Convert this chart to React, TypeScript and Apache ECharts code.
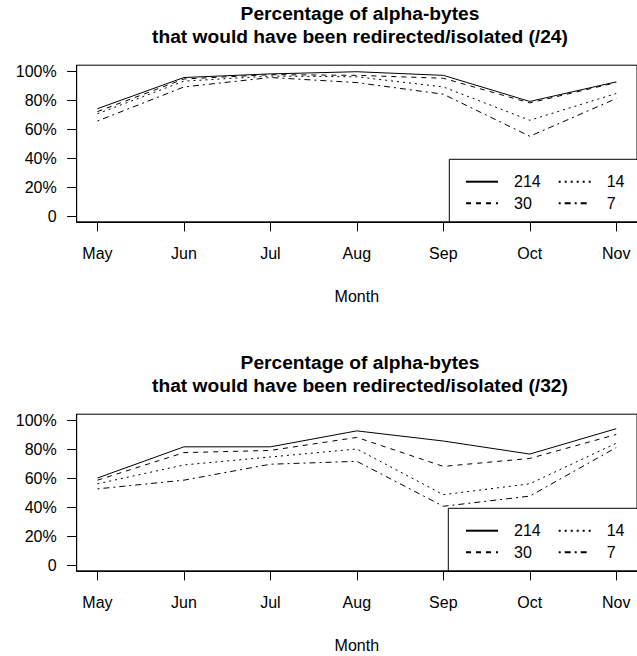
import React, { useEffect, useRef } from "react";
import * as echarts from "echarts";

// months on the x axis
const months = ["May", "Jun", "Jul", "Aug", "Sep", "Oct", "Nov"];
const yTicks = [0, 20, 40, 60, 80, 100];
const seriesNames = ["214", "30", "14", "7"];

// /24 panel (percent)
const top214 = [74, 95.5, 98, 99.5, 97, 79, 92.5];
const top30 = [72, 94.5, 97.5, 97, 95, 78, 92];
const top14 = [70.5, 93, 96.5, 96, 89, 66, 84.5];
const top7 = [65.5, 89, 95.5, 92, 84, 55, 81];

// /32 panel (percent)
const bot214 = [60, 81.5, 81.5, 92.5, 85.5, 76.5, 94];
const bot30 = [58.5, 77.5, 79, 88, 68, 73.5, 90];
const bot14 = [56, 69, 74.5, 80, 48.5, 56, 84];
const bot7 = [52.5, 58.5, 69.5, 71.5, 40.5, 47.5, 81];

const FONT = "Liberation Sans, Arial, sans-serif";
// R lty 1..4 : solid, dashed, dotted, dotdash
const dashTypes: any[] = ["solid", [5, 5], [2, 4], [2, 4, 6, 4]];

const OFFSET = 349; // vertical shift of the second panel

const makeSeries = (idx: number, rows: number[][]) =>
  rows.map((vals, k) => ({
    type: "line",
    name: seriesNames[k],
    xAxisIndex: idx,
    yAxisIndex: idx,
    data: vals.map((v, i) => [i, v]),
    symbol: "none",
    showSymbol: false,
    silent: true,
    lineStyle: { color: "#000", width: 1, type: dashTypes[k], cap: "butt" },
    itemStyle: { color: "#000" },
    z: 3,
  }));

const makeTitle = (label: string, dy: number) => ({
  text: "Percentage of alpha-bytes\nthat would have been redirected/isolated (" + label + ")",
  left: 360,
  top: 1.5 + dy,
  textAlign: "center",
  padding: 0,
  textStyle: {
    fontFamily: FONT,
    fontSize: 19.2,
    fontWeight: "bold",
    lineHeight: 23,
    color: "#000",
  },
});

const makeLegend = (names: string[], left: number, dy: number) => ({
  data: names,
  orient: "vertical",
  left,
  top: 173.7 + dy,
  padding: 0,
  itemWidth: 32,
  itemHeight: 16,
  itemGap: 5.6,
  selectedMode: false,
  z: 20,
  // hide the marker, keep only the line sample
  itemStyle: { color: "rgba(0,0,0,0)", borderWidth: 0, opacity: 0 },
  textStyle: {
    fontFamily: FONT,
    fontSize: 16,
    lineHeight: 16,
    color: "#000",
    padding: [0, 0, 0, 11],
  },
});

const makeX = (idx: number) => ({
  type: "value",
  gridIndex: idx,
  min: -0.24,
  max: 6.24,
  splitLine: { show: false },
  axisLine: { show: true, onZero: false, lineStyle: { color: "#000", width: 1 } },
  axisTick: {
    show: true,
    length: 9.6,
    customValues: months.map((_, i) => i),
    lineStyle: { color: "#000", width: 1 },
  },
  axisLabel: {
    customValues: months.map((_, i) => i),
    formatter: (v: number) => months[Math.round(v)],
    margin: 24,
    fontFamily: FONT,
    fontSize: 16,
    color: "#000",
  },
  name: "Month",
  nameLocation: "middle",
  nameGap: 67,
  nameTextStyle: { fontFamily: FONT, fontSize: 16, color: "#000" },
});

const makeY = (idx: number) => ({
  type: "value",
  gridIndex: idx,
  min: -4,
  max: 104,
  splitLine: { show: false },
  axisLine: { show: true, onZero: false, lineStyle: { color: "#000", width: 1 } },
  axisTick: {
    show: true,
    length: 9.6,
    customValues: yTicks,
    lineStyle: { color: "#000", width: 1 },
  },
  axisLabel: {
    customValues: yTicks,
    formatter: (v: number) => (v === 0 ? "0" : v + "%"),
    margin: 20,
    fontFamily: FONT,
    fontSize: 16,
    color: "#000",
  },
});

const legendBox = (x: number, y: number, h: number) => ({
  type: "rect",
  z: 10,
  silent: true,
  shape: { x, y, width: 260, height: h },
  style: { fill: "#fff", stroke: "#000", lineWidth: 1 },
});

const App: React.FC = () => {
  const chartRef = useRef<HTMLDivElement>(null);

  useEffect(() => {
    const chart = echarts.init(chartRef.current, null, { renderer: "svg" });
    const option: any = {
      animation: false,
      backgroundColor: "#fff",
      textStyle: { fontFamily: FONT },
      title: [makeTitle("/24", 0), makeTitle("/32", OFFSET)],
      grid: [
        { left: 76.7, right: -6.7, top: 65.2, height: 156.6, show: true, borderColor: "#000", borderWidth: 1, backgroundColor: "transparent" },
        { left: 76.7, right: -6.7, top: 65.2 + OFFSET, height: 156.6, show: true, borderColor: "#000", borderWidth: 1, backgroundColor: "transparent" },
      ],
      xAxis: [makeX(0), makeX(1)],
      yAxis: [makeY(0), makeY(1)],
      legend: [
        makeLegend(["214", "30"], 465, 0),
        makeLegend(["14", "7"], 557.7, 0),
        makeLegend(["214", "30"], 465, OFFSET),
        makeLegend(["14", "7"], 557.7, OFFSET),
      ],
      graphic: [
        legendBox(449.3, 159.3, 62.5),
        legendBox(448.3, 159.3 + OFFSET, 62.5),
      ],
      series: [
        ...makeSeries(0, [top214, top30, top14, top7]),
        ...makeSeries(1, [bot214, bot30, bot14, bot7]),
      ],
    };
    chart.setOption(option);
    return () => {
      chart.dispose();
    };
  }, []);

  return (
    <div
      ref={chartRef}
      style={{ position: "absolute", left: 0, top: 0, width: 637, height: 656 }}
    />
  );
};

export default App;
